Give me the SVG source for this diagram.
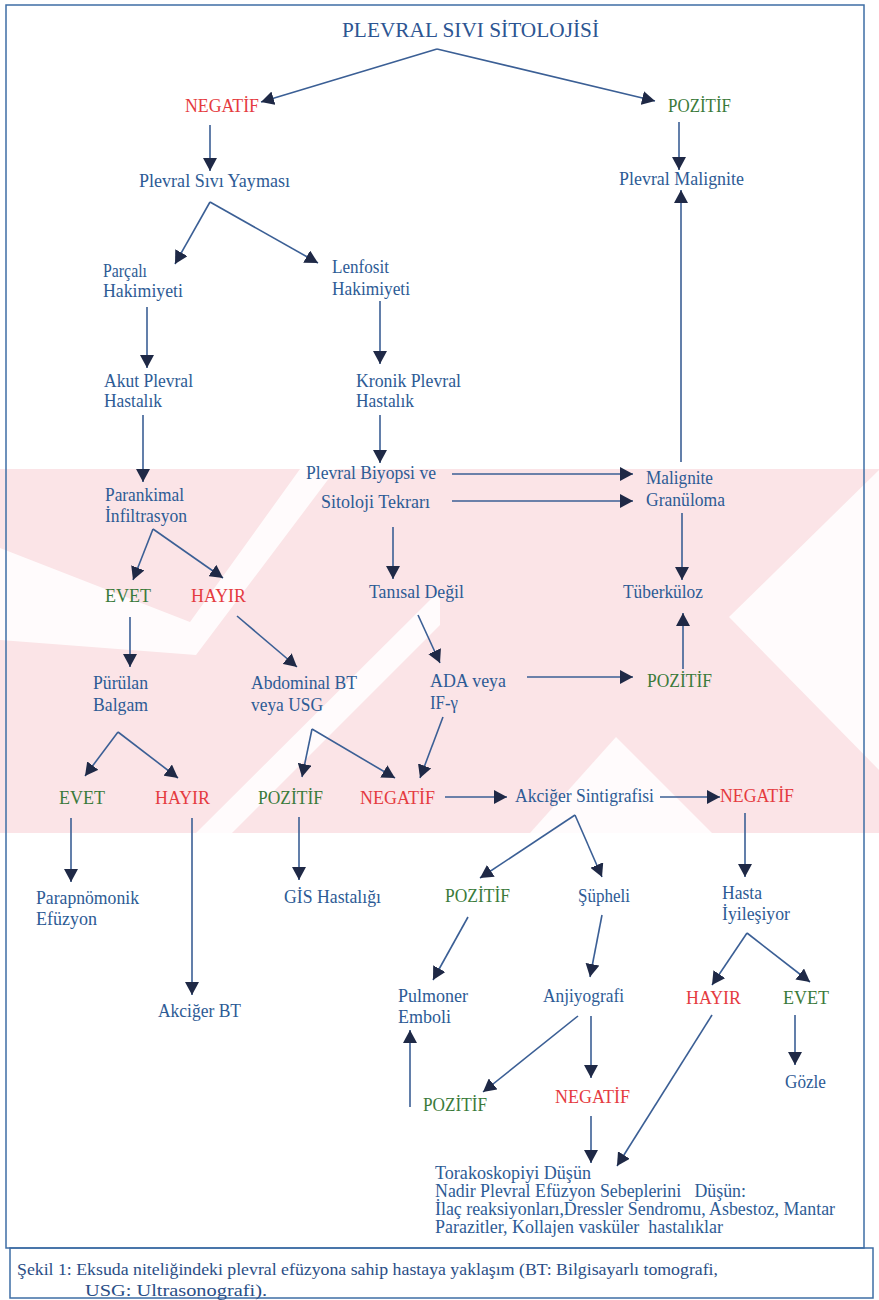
<svg xmlns="http://www.w3.org/2000/svg" width="879" height="1300" viewBox="0 0 879 1300">
<style>
text{font-family:"Liberation Serif","Times New Roman",serif;font-size:19px;}
.t{fill:#2d5b95;}
.r{fill:#e53b40;}
.g{fill:#3a7a3a;}
.ttl{fill:#2d5592;font-size:22px;}
.blk{font-size:18px;white-space:pre;}
.cap{fill:#2a4e86;font-size:17px;}
.c line{stroke:#3b5f95;stroke-width:1.6;fill:none;}
.a{marker-end:url(#ah);}
.wg{fill:#ffffff;opacity:0.85;}
</style>
<defs>
<marker id="ah" markerUnits="userSpaceOnUse" markerWidth="14" markerHeight="14" refX="13" refY="7" orient="auto">
<path d="M0,0 L13,7 L0,14 z" fill="#1f2946"/>
</marker>
<clipPath id="band"><rect x="0" y="469" width="879" height="364"/></clipPath>
</defs>
<rect x="0" y="0" width="879" height="1300" fill="#ffffff"/>
<g id="watermark" clip-path="url(#band)">
<rect x="0" y="469" width="879" height="364" fill="#fbe4e7"/>
<polygon class="wg" points="0,548 190,622 300,469 336,469 196,655 0,640"/>
<polygon class="wg" points="196,833 440,590 440,625 232,833"/>
<polygon class="wg" points="616,737 530,833 712,833"/>
<polygon class="wg" points="729,617 879,470 879,770"/>
</g>
<rect x="6" y="5" width="858" height="1243" fill="none" stroke="#3e6ea5" stroke-width="1.5"/>
<rect x="10" y="1248" width="863" height="50" fill="none" stroke="#3e6ea5" stroke-width="1.5"/>
<g id="connectors" class="c">
<line class="a" x1="437" y1="49" x2="261" y2="102"/>
<line class="a" x1="437" y1="49" x2="655" y2="101"/>
<line class="a" x1="210" y1="125" x2="210" y2="171"/>
<line class="a" x1="679" y1="122" x2="679" y2="170"/>
<line class="a" x1="210" y1="202" x2="175" y2="264"/>
<line class="a" x1="210" y1="202" x2="318" y2="263"/>
<line class="a" x1="147" y1="307" x2="147" y2="368"/>
<line class="a" x1="380" y1="301" x2="380" y2="364"/>
<line class="a" x1="143" y1="415" x2="143" y2="482"/>
<line class="a" x1="380" y1="415" x2="380" y2="463"/>
<line class="a" x1="452" y1="474" x2="633" y2="474"/>
<line class="a" x1="452" y1="501" x2="633" y2="501"/>
<line class="a" x1="681" y1="462" x2="681" y2="190"/>
<line class="a" x1="682" y1="513" x2="682" y2="580"/>
<line class="a" x1="683" y1="669" x2="683" y2="613"/>
<line class="a" x1="153" y1="529" x2="133" y2="580"/>
<line class="a" x1="153" y1="529" x2="223" y2="578"/>
<line class="a" x1="393" y1="527" x2="393" y2="579"/>
<line class="a" x1="130" y1="617" x2="130" y2="667"/>
<line class="a" x1="237" y1="616" x2="297" y2="667"/>
<line class="a" x1="418" y1="615" x2="440" y2="663"/>
<line class="a" x1="527" y1="677" x2="633" y2="677"/>
<line class="a" x1="118" y1="732" x2="85" y2="776"/>
<line class="a" x1="118" y1="732" x2="178" y2="778"/>
<line class="a" x1="312" y1="729" x2="302" y2="777"/>
<line class="a" x1="312" y1="729" x2="395" y2="778"/>
<line class="a" x1="443" y1="717" x2="420" y2="778"/>
<line class="a" x1="445" y1="797" x2="507" y2="797"/>
<line class="a" x1="660" y1="797" x2="720" y2="797"/>
<line class="a" x1="71" y1="818" x2="71" y2="882"/>
<line class="a" x1="192" y1="818" x2="192" y2="995"/>
<line class="a" x1="299" y1="817" x2="299" y2="880"/>
<line class="a" x1="575" y1="815" x2="480" y2="878"/>
<line class="a" x1="575" y1="815" x2="602" y2="877"/>
<line class="a" x1="745" y1="813" x2="745" y2="877"/>
<line class="a" x1="468" y1="917" x2="433" y2="980"/>
<line class="a" x1="602" y1="915" x2="590" y2="977"/>
<line class="a" x1="747" y1="933" x2="712" y2="985"/>
<line class="a" x1="747" y1="933" x2="810" y2="982"/>
<line class="a" x1="578" y1="1016" x2="483" y2="1092"/>
<line class="a" x1="591" y1="1016" x2="591" y2="1078"/>
<line class="a" x1="795" y1="1015" x2="795" y2="1065"/>
<line class="a" x1="410" y1="1107" x2="410" y2="1030"/>
<line class="a" x1="591" y1="1116" x2="591" y2="1163"/>
<line class="a" x1="712" y1="1015" x2="617" y2="1166"/>
</g>
<g id="n-title"><text class="ttl" x="342" y="37" textLength="257" lengthAdjust="spacingAndGlyphs">PLEVRAL SIVI SİTOLOJİSİ</text></g>
<g id="n-neg1"><text class="r" x="185" y="112" textLength="74" lengthAdjust="spacingAndGlyphs">NEGATİF</text></g>
<g id="n-poz1"><text class="g" x="668" y="112" textLength="63" lengthAdjust="spacingAndGlyphs">POZİTİF</text></g>
<g id="n-yayma"><text class="t" x="139" y="187" textLength="151" lengthAdjust="spacingAndGlyphs">Plevral Sıvı Yayması</text></g>
<g id="n-pmalig"><text class="t" x="619" y="185" textLength="125" lengthAdjust="spacingAndGlyphs">Plevral Malignite</text></g>
<g id="n-parcali"><text class="t" x="103" y="277" textLength="44" lengthAdjust="spacingAndGlyphs">Parçalı</text><text class="t" x="103" y="297" textLength="80" lengthAdjust="spacingAndGlyphs">Hakimiyeti</text></g>
<g id="n-lenfosit"><text class="t" x="332" y="273" textLength="57" lengthAdjust="spacingAndGlyphs">Lenfosit</text><text class="t" x="332" y="295" textLength="78" lengthAdjust="spacingAndGlyphs">Hakimiyeti</text></g>
<g id="n-akut"><text class="t" x="104" y="387" textLength="89" lengthAdjust="spacingAndGlyphs">Akut Plevral</text><text class="t" x="104" y="407" textLength="58" lengthAdjust="spacingAndGlyphs">Hastalık</text></g>
<g id="n-kronik"><text class="t" x="356" y="387" textLength="105" lengthAdjust="spacingAndGlyphs">Kronik Plevral</text><text class="t" x="356" y="407" textLength="58" lengthAdjust="spacingAndGlyphs">Hastalık</text></g>
<g id="n-parankimal"><text class="t" x="105" y="501" textLength="79" lengthAdjust="spacingAndGlyphs">Parankimal</text><text class="t" x="105" y="522" textLength="82" lengthAdjust="spacingAndGlyphs">İnfiltrasyon</text></g>
<g id="n-biyopsi"><text class="t" x="306" y="479" textLength="130" lengthAdjust="spacingAndGlyphs">Plevral Biyopsi ve</text><text class="t" x="321" y="508" textLength="109" lengthAdjust="spacingAndGlyphs">Sitoloji Tekrarı</text></g>
<g id="n-malgran"><text class="t" x="646" y="484" textLength="67" lengthAdjust="spacingAndGlyphs">Malignite</text><text class="t" x="646" y="506" textLength="79" lengthAdjust="spacingAndGlyphs">Granüloma</text></g>
<g id="n-evet1"><text class="g" x="105" y="602" textLength="46" lengthAdjust="spacingAndGlyphs">EVET</text></g>
<g id="n-hayir1"><text class="r" x="191" y="602" textLength="55" lengthAdjust="spacingAndGlyphs">HAYIR</text></g>
<g id="n-tanisal"><text class="t" x="369" y="598" textLength="95" lengthAdjust="spacingAndGlyphs">Tanısal Değil</text></g>
<g id="n-tuberkuloz"><text class="t" x="623" y="598" textLength="80" lengthAdjust="spacingAndGlyphs">Tüberküloz</text></g>
<g id="n-purulan"><text class="t" x="93" y="689" textLength="55" lengthAdjust="spacingAndGlyphs">Pürülan</text><text class="t" x="93" y="711" textLength="55" lengthAdjust="spacingAndGlyphs">Balgam</text></g>
<g id="n-abdominal"><text class="t" x="251" y="689" textLength="106" lengthAdjust="spacingAndGlyphs">Abdominal BT</text><text class="t" x="251" y="711" textLength="72" lengthAdjust="spacingAndGlyphs">veya USG</text></g>
<g id="n-ada"><text class="t" x="430" y="687" textLength="76" lengthAdjust="spacingAndGlyphs">ADA veya</text><text class="t" x="430" y="709" textLength="28" lengthAdjust="spacingAndGlyphs">IF-γ</text></g>
<g id="n-poz2"><text class="g" x="647" y="687" textLength="65" lengthAdjust="spacingAndGlyphs">POZİTİF</text></g>
<g id="n-evet2"><text class="g" x="59" y="804" textLength="46" lengthAdjust="spacingAndGlyphs">EVET</text></g>
<g id="n-hayir2"><text class="r" x="155" y="804" textLength="55" lengthAdjust="spacingAndGlyphs">HAYIR</text></g>
<g id="n-poz3"><text class="g" x="258" y="804" textLength="65" lengthAdjust="spacingAndGlyphs">POZİTİF</text></g>
<g id="n-neg2"><text class="r" x="360" y="804" textLength="75" lengthAdjust="spacingAndGlyphs">NEGATİF</text></g>
<g id="n-sintigrafi"><text class="t" x="515" y="802" textLength="139" lengthAdjust="spacingAndGlyphs">Akciğer Sintigrafisi</text></g>
<g id="n-neg3"><text class="r" x="720" y="802" textLength="74" lengthAdjust="spacingAndGlyphs">NEGATİF</text></g>
<g id="n-parapnomonik"><text class="t" x="36" y="904" textLength="103" lengthAdjust="spacingAndGlyphs">Parapnömonik</text><text class="t" x="36" y="925" textLength="61" lengthAdjust="spacingAndGlyphs">Efüzyon</text></g>
<g id="n-gis"><text class="t" x="284" y="903" textLength="97" lengthAdjust="spacingAndGlyphs">GİS Hastalığı</text></g>
<g id="n-akcigerbt"><text class="t" x="158" y="1017" textLength="83" lengthAdjust="spacingAndGlyphs">Akciğer BT</text></g>
<g id="n-poz4"><text class="g" x="445" y="902" textLength="65" lengthAdjust="spacingAndGlyphs">POZİTİF</text></g>
<g id="n-supheli"><text class="t" x="578" y="902" textLength="52" lengthAdjust="spacingAndGlyphs">Şüpheli</text></g>
<g id="n-hasta"><text class="t" x="722" y="899" textLength="40" lengthAdjust="spacingAndGlyphs">Hasta</text><text class="t" x="722" y="920" textLength="68" lengthAdjust="spacingAndGlyphs">İyileşiyor</text></g>
<g id="n-pulmoner"><text class="t" x="398" y="1002" textLength="70" lengthAdjust="spacingAndGlyphs">Pulmoner</text><text class="t" x="398" y="1023" textLength="53" lengthAdjust="spacingAndGlyphs">Emboli</text></g>
<g id="n-anjiyografi"><text class="t" x="543" y="1002" textLength="81" lengthAdjust="spacingAndGlyphs">Anjiyografi</text></g>
<g id="n-hayir3"><text class="r" x="686" y="1004" textLength="55" lengthAdjust="spacingAndGlyphs">HAYIR</text></g>
<g id="n-evet3"><text class="g" x="783" y="1004" textLength="46" lengthAdjust="spacingAndGlyphs">EVET</text></g>
<g id="n-gozle"><text class="t" x="785" y="1088" textLength="41" lengthAdjust="spacingAndGlyphs">Gözle</text></g>
<g id="n-poz5"><text class="g" x="423" y="1111" textLength="64" lengthAdjust="spacingAndGlyphs">POZİTİF</text></g>
<g id="n-neg4"><text class="r" x="555" y="1103" textLength="75" lengthAdjust="spacingAndGlyphs">NEGATİF</text></g>
<g id="n-torakoskopi"><text class="t blk" x="435" y="1179" textLength="156" lengthAdjust="spacingAndGlyphs">Torakoskopiyi Düşün</text><text class="t blk" x="435" y="1197" textLength="311" lengthAdjust="spacingAndGlyphs">Nadir Plevral Efüzyon Sebeplerini   Düşün:</text><text class="t blk" x="435" y="1215" textLength="400" lengthAdjust="spacingAndGlyphs">İlaç reaksiyonları,Dressler Sendromu, Asbestoz, Mantar</text><text class="t blk" x="435" y="1233" textLength="288" lengthAdjust="spacingAndGlyphs">Parazitler, Kollajen vasküler  hastalıklar</text></g>
<g id="caption"><text class="cap" x="17" y="1275" textLength="701" lengthAdjust="spacingAndGlyphs">Şekil 1: Eksuda niteliğindeki plevral efüzyona sahip hastaya yaklaşım (BT: Bilgisayarlı tomografi,</text><text class="cap" x="85" y="1296" textLength="182" lengthAdjust="spacingAndGlyphs">USG: Ultrasonografi).</text></g>
</svg>
